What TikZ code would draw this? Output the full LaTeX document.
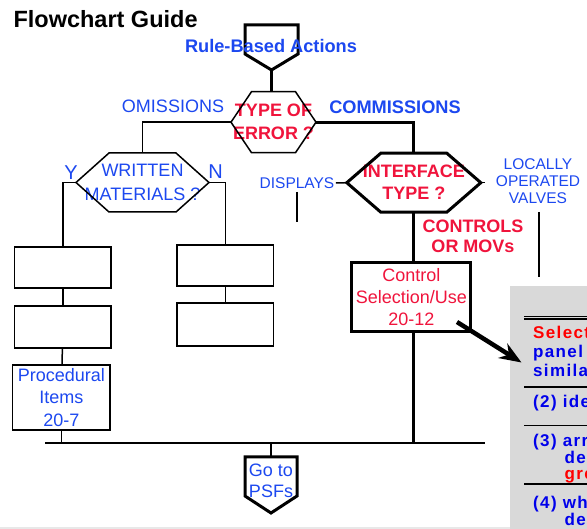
\documentclass[tikz,border=0pt]{standalone}
\usepackage{fontspec}
\setmainfont{Liberation Sans}
\newfontfamily\panelfont{Liberation Sans}[LetterSpace=8]
\usetikzlibrary{arrows.meta,calc}

\definecolor{lblblue}{RGB}{28,72,240}
\definecolor{lblred}{RGB}{240,20,60}
\definecolor{pnlred}{RGB}{255,0,0}
\definecolor{pnlblue}{RGB}{0,0,235}
\definecolor{pnlgray}{RGB}{217,217,217}

\newcommand{\fsz}[2]{\fontsize{#1}{#2}\selectfont}
% hexagonal decision outline around a rectangular node
\newcommand{\hexoutline}[3]{%
  \draw[#3] ([xshift=#2]#1.north west) -- ([xshift=-#2]#1.north east) -- (#1.east)
    -- ([xshift=-#2]#1.south east) -- ([xshift=#2]#1.south west) -- (#1.west) -- cycle;}
% off-page connector: rectangle node with a point below
\newcommand{\pentoutline}[3]{%
  \draw[#3] (#1.north west) -- (#1.north east) -- (#1.south east) -- (#2)
    -- (#1.south west) -- cycle;}

\tikzset{
  wire/.style={line width=1.5pt},
  heavy/.style={line width=3pt},
  busline/.style={line width=1.8pt},
  shapeframe/.style={inner sep=0pt, outer sep=0pt},
  plainbox/.style={draw, line width=1.5pt, inner sep=0pt, outer sep=0pt, align=center},
  lbl/.style={inner sep=0pt, outer sep=0pt, align=center},
  bluelbl/.style={lbl, text=lblblue, font=\fsz{18}{22}},
  blueboldlbl/.style={lbl, text=lblblue, font=\bfseries\fsz{18.2}{22}},
  redboldlbl/.style={lbl, text=lblred, font=\bfseries\fsz{18}{22}},
  smalllbl/.style={lbl, text=lblblue, font=\fsz{15.5}{17}},
  pnltext/.style={inner sep=0pt, anchor=base west, font=\panelfont\bfseries\fsz{17}{19}},
  pnlrule/.style={line width=1.6pt},
  bigarrow/.style={line width=4.5pt, -{Stealth[length=22pt,width=17pt]}},
}

\begin{document}
\begin{tikzpicture}[x=1pt,y=-1pt,line join=miter]
\useasboundingbox (0,0) rectangle (587,529);
\fill[white] (0,0) rectangle (587,529);

% title
\node[lbl, anchor=base west, font=\bfseries\fsz{23.5}{26}] (title) at (13.5,27.5) {Flowchart Guide};

% entry connector
\node[shapeframe, minimum width=53pt, minimum height=29pt] (rba) at (271.5,39.5) {};
\coordinate (rbatip) at ($(rba.south)+(0,16)$);
\pentoutline{rba}{rbatip}{heavy}
\node[blueboldlbl, anchor=base] (rbatext) at (271,53) {Rule-Based Actions};

% type of error decision
\node[shapeframe, redboldlbl, font=\bfseries\fsz{18}{23}, minimum width=85pt, minimum height=61pt] (terr) at (273.5,122.2) {TYPE OF\\ERROR ?};
\hexoutline{terr}{20.5pt}{wire}
\draw[heavy] (rbatip) -- (rbatip |- terr.north);

\node[bluelbl, anchor=base] (omis) at (173,113) {OMISSIONS};
\node[blueboldlbl, anchor=base] (comis) at (395,114) {COMMISSIONS};

% omissions branch
\node[shapeframe, bluelbl, font=\fsz{18}{23.5}, minimum width=133pt, minimum height=59pt] (writ) at (142.5,182.5) {WRITTEN\\MATERIALS ?};
\hexoutline{writ}{33pt}{wire}
\draw[wire] (terr.west) -| (writ.north);

\node[lbl, anchor=base, text=lblblue, font=\fsz{20}{22}] (yes) at (71,180) {Y};
\node[lbl, anchor=base, text=lblblue, font=\fsz{20}{22}] (no) at (215.5,179) {N};

\node[plainbox, minimum width=96.3pt, minimum height=41pt] (l1) at (62.85,267.5) {};
\node[plainbox, minimum width=96.3pt, minimum height=42pt] (l2) at (62.85,327) {};
\node[plainbox, minimum width=96.7pt, minimum height=41pt] (r1) at (225.3,265.5) {};
\node[plainbox, minimum width=96.7pt, minimum height=43pt] (r2) at (225.3,324.5) {};
\node[plainbox, text=lblblue, font=\fsz{18}{22.5}, minimum width=97.3pt, minimum height=65pt] (proc) at (61.3,397.5) {Procedural\\Items\\20-7};

\draw[wire] (writ.west) -| (l1.north);
\draw[wire] (writ.east) -| (r1.north);
\draw[wire] (l1) -- (l2);
\draw[wire] (l2) -- (proc);
\draw[wire] (r1) -- (r2);

% commissions branch
\node[shapeframe, redboldlbl, minimum width=134pt, minimum height=59pt] (iface) at (413.8,182.7) {INTERFACE\\TYPE ?};
\hexoutline{iface}{34pt}{heavy}
\draw[heavy] (terr.east) -| (iface.north);

\node[smalllbl, anchor=base] (disp) at (297,188.3) {DISPLAYS};
\draw[wire] ($(disp.east)+(1.5,0)$) -- (iface.west);
\coordinate (dispstub) at (297,192);
\coordinate (dispend) at (297,222);
\draw[wire] (dispstub) -- (dispend);

\node[smalllbl] (valves) at (538,181.5) {LOCALLY\\OPERATED\\VALVES};
\coordinate (valvestub) at ($(iface.east)+(4,0)$);
\draw[wire] (iface.east) -- (valvestub);
\coordinate (valvetop) at (539,212);
\coordinate (valveend) at (539,277);
\draw[wire] (valvetop) -- (valveend);

\node[redboldlbl, font=\bfseries\fsz{18}{20}] (ctrllbl) at (473,236) {CONTROLS\\OR MOVs};

\node[plainbox, line width=3pt, text=lblred, font=\fsz{18}{22.2}, minimum width=118.7pt, minimum height=69.3pt] (ctrl) at (411.3,297.3) {Control\\Selection/Use\\20-12};
\draw[heavy] (iface.south) -- (iface.south |- ctrl.north);

% collecting line and exit connector
\coordinate (busL) at (45,443);
\coordinate (busR) at (485,443);
\draw[busline] (busL) -- (busR);
\draw[wire] (proc.south) -- (proc.south |- busL);
\draw[heavy] (iface.south |- ctrl.south) -- (iface.south |- busL);

\node[shapeframe, minimum width=52pt, minimum height=39pt] (psf) at (271,476.5) {};
\coordinate (psftip) at ($(psf.south)+(0,17)$);
\pentoutline{psf}{psftip}{heavy}
\draw[busline] (psf.north |- busL) -- (psf.north);
\node[bluelbl, font=\fsz{18}{21}] (psftext) at (271,481.2) {Go to\\PSFs};

\draw[black!9, line width=1.5pt] (0,528) -- (510,528);

% detail panel
\fill[pnlgray] (510,286) rectangle (587,529);
\begin{scope}
\clip (510,286) rectangle (587,529);
\coordinate (pl) at (524,0);
\coordinate (pr) at (590,0);
\draw[line width=1pt] (pl |- 0,316.7) -- (pr |- 0,316.7);
\draw[line width=2pt] (pl |- 0,319.5) -- (pr |- 0,319.5);
\node[pnltext, text=pnlred] (s1) at (533,339) {Select};
\node[pnltext, text=pnlblue] (s2) at (533,358) {panel};
\node[pnltext, text=pnlblue] (s3) at (533,377) {simila};
\draw[pnlrule] (pl |- 0,387) -- (pr |- 0,387);
\node[pnltext, text=pnlblue] (s4) at (533,408) {(2) ide};
\draw[pnlrule] (pl |- 0,425.7) -- (pr |- 0,425.7);
\node[pnltext, text=pnlblue] (s5) at (533,447) {(3) arr};
\node[pnltext, text=pnlblue] (s6) at (564.5,463.5) {de};
\node[pnltext, text=pnlred] (s7) at (564.5,479.5) {gre};
\draw[pnlrule] (pl |- 0,484.3) -- (pr |- 0,484.3);
\node[pnltext, text=pnlblue] (s8) at (533,508.5) {(4) wh};
\node[pnltext, text=pnlblue] (s9) at (564.5,525.5) {de};
\end{scope}

\coordinate (arrfrom) at (457,322);
\coordinate (arrto) at (521.5,362.5);
\draw[bigarrow] (arrfrom) -- (arrto);
\end{tikzpicture}
\end{document}
